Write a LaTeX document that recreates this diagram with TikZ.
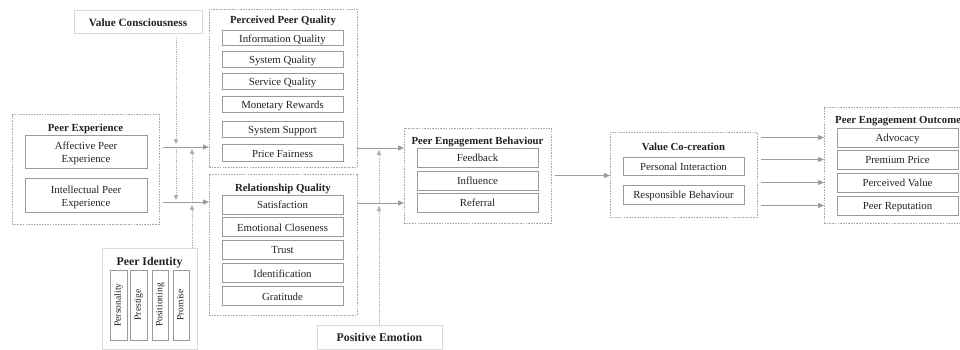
\documentclass[tikz,border=0pt]{standalone}
\usepackage{fontspec}
\setmainfont{Liberation Serif}
\usetikzlibrary{arrows.meta}
\definecolor{boxc}{HTML}{9A9A9A}
\definecolor{grpc}{HTML}{A8A8A8}
\definecolor{modc}{HTML}{DADADA}
\definecolor{arrc}{HTML}{9C9C9C}
\definecolor{txtc}{HTML}{222222}
\tikzset{
 itembox/.style={draw=boxc, line width=0.9pt, inner sep=0pt, outer sep=0pt, text=txtc, text height=8.9pt, text depth=0.3pt, font=\fontsize{10.8}{12.5}\selectfont},
 twoline/.style={align=center, inner sep=0pt, text=txtc, font=\fontsize{10.8}{13}\selectfont},
 groupbox/.style={draw=grpc, line width=0.8pt, dash pattern=on 1.6pt off 1.1pt, inner sep=0pt, outer sep=0pt},
 modbox/.style={draw=modc, line width=0.8pt, inner sep=0pt, outer sep=0pt, text=txtc, text height=9.4pt, text depth=0.3pt, font=\bfseries\fontsize{11.8}{13}\selectfont},
 grouptitle/.style={text=txtc, font=\bfseries\fontsize{10.8}{12}\selectfont, inner sep=0pt, text height=8.9pt, text depth=0.3pt},
 rottext/.style={rotate=90, text=txtc, font=\fontsize{9.6}{11}\selectfont, inner sep=0pt, text height=6.6pt, text depth=1.8pt},
 flow/.style={draw=arrc, line width=1pt, -{Triangle[length=6pt,width=5pt]}},
 modline/.style={draw=arrc!80, line width=0.6pt, dash pattern=on 1pt off 0.8pt, -{Triangle[length=5pt,width=4.5pt]}},
}
\newcommand\mybox[7]{\node[#1, minimum width={(#4)-(#2)}, minimum height={(#5)-(#3)}] (#6) at ({((#2)+(#4))/2},{((#3)+(#5))/2}) {#7};}
\begin{document}
\begin{tikzpicture}[x=1pt,y=-1pt]
\useasboundingbox (0,0) rectangle (960,350);
\clip (0,0) rectangle (960,350);
% moderators
\mybox{modbox, font=\bfseries\fontsize{11.2}{13}\selectfont}{74}{10}{202}{33}{vc}{Value Consciousness}
\mybox{modbox}{102}{248}{197}{349}{pid}{}
\node[grouptitle, font=\bfseries\fontsize{11.8}{13}\selectfont] (pidt) at (149.5,261) {Peer Identity};
\mybox{itembox}{110}{270}{127}{340}{pers}{}
\mybox{itembox}{130}{270}{147}{340}{pres}{}
\mybox{itembox}{152}{270}{168}{340}{posi}{}
\mybox{itembox}{173}{270}{189}{340}{prom}{}
\node[rottext] at (pers) {Personality};
\node[rottext] at (pres) {Prestige};
\node[rottext] at (posi) {Positioning};
\node[rottext] at (prom) {Promise};
\mybox{modbox}{317}{325}{442}{349}{pem}{Positive Emotion}
% peer experience
\mybox{groupbox}{12}{114}{159}{224}{pe}{}
\node[grouptitle] (pet) at (85.5,127) {Peer Experience};
\mybox{itembox}{25}{135}{147}{168}{ape}{}
\mybox{itembox}{25}{178}{147}{212}{ipe}{}
\node[twoline] at ([yshift=-2pt]ape.center) {Affective Peer\\Experience};
\node[twoline] at ([yshift=-2pt]ipe.center) {Intellectual Peer\\Experience};
% perceived peer quality
\mybox{groupbox}{209}{9}{357}{167}{ppq}{}
\node[grouptitle] (ppqt) at (283,19) {Perceived Peer Quality};
\mybox{itembox}{222}{30}{343}{45.5}{iq}{Information Quality}
\mybox{itembox}{222}{51}{343}{67.5}{sq}{System Quality}
\mybox{itembox}{222}{73}{343}{89}{svq}{Service Quality}
\mybox{itembox}{222}{96}{343}{112.5}{mr}{Monetary Rewards}
\mybox{itembox}{222}{121}{343}{137}{ss}{System Support}
\mybox{itembox}{222}{144.5}{343}{161.5}{pf}{Price Fairness}
% relationship quality
\mybox{groupbox}{209}{174}{357}{315}{rq}{}
\node[grouptitle] (rqt) at (283,187) {Relationship Quality};
\mybox{itembox}{222}{195}{343}{214}{sat}{Satisfaction}
\mybox{itembox}{222}{217.5}{343}{236.5}{ec}{Emotional Closeness}
\mybox{itembox}{222}{240}{343}{259}{tr}{Trust}
\mybox{itembox}{222}{263.5}{343}{282.5}{idf}{Identification}
\mybox{itembox}{222}{286}{343}{305.5}{gr}{Gratitude}
% peer engagement behaviour
\mybox{groupbox}{404}{128}{551}{223}{peb}{}
\node[grouptitle] (pebt) at (477.5,140) {Peer Engagement Behaviour};
\mybox{itembox}{417}{148}{538}{167}{fb}{Feedback}
\mybox{itembox}{417}{171}{538}{190}{inf}{Influence}
\mybox{itembox}{417}{193}{538}{212}{ref}{Referral}
% value co-creation
\mybox{groupbox}{610}{132}{757}{217}{vco}{}
\node[grouptitle] (vcot) at (683.5,146) {Value Co-creation};
\mybox{itembox}{623}{157}{744}{175}{pint}{Personal Interaction}
\mybox{itembox}{623}{185}{744}{204}{rb}{Responsible Behaviour}
% peer engagement outcome
\mybox{groupbox}{824}{107}{972}{223}{peo}{}
\node[grouptitle, anchor=west] (peot) at (835,119) {Peer Engagement Outcome};
\mybox{itembox}{837}{128}{958}{147}{adv}{Advocacy}
\mybox{itembox}{837}{150}{958}{169}{pp}{Premium Price}
\mybox{itembox}{837}{173}{958}{192}{pv}{Perceived Value}
\mybox{itembox}{837}{196}{958}{215}{prep}{Peer Reputation}
% junction coordinates
\coordinate (a1) at (163,147);
\coordinate (a2) at (163,202);
\coordinate (m1) at (176,147);
\coordinate (m2) at (176,202);
\coordinate (n1) at (192,147);
\coordinate (n2) at (192,202);
\coordinate (p1) at (379,148);
\coordinate (p2) at (379,203);
% flows
\draw[flow] (a1) -- (a1 -| ppq.west);
\draw[flow] (a2) -- (a2 -| rq.west);
\draw[flow] (p1 -| ppq.east) -- (p1 -| peb.west);
\draw[flow] (p2 -| rq.east) -- (p2 -| peb.west);
\draw[flow] ([xshift=4pt]peb.east) -- (vco.west |- peb.east);
\draw[flow] ([xshift=4pt]vco.east |- adv) -- (peo.west |- adv);
\draw[flow] ([xshift=4pt]vco.east |- pp) -- (peo.west |- pp);
\draw[flow] ([xshift=4pt]vco.east |- pv) -- (peo.west |- pv);
\draw[flow] ([xshift=4pt]vco.east |- prep) -- (peo.west |- prep);
% moderator lines
\draw[modline] ([yshift=-5pt]vc.south -| m1) -- ([yshift=3pt]m1);
\draw[modline] (m1) -- ([yshift=2pt]m2);
\draw[modline] (pid.north -| n2) -- ([yshift=-3pt]n2);
\draw[modline] (n2) -- ([yshift=-2pt]n1);
\draw[modline] (pem.north -| p2) -- ([yshift=-3pt]p2);
\draw[modline] (p2) -- ([yshift=-2pt]p1);
\end{tikzpicture}
\end{document}
